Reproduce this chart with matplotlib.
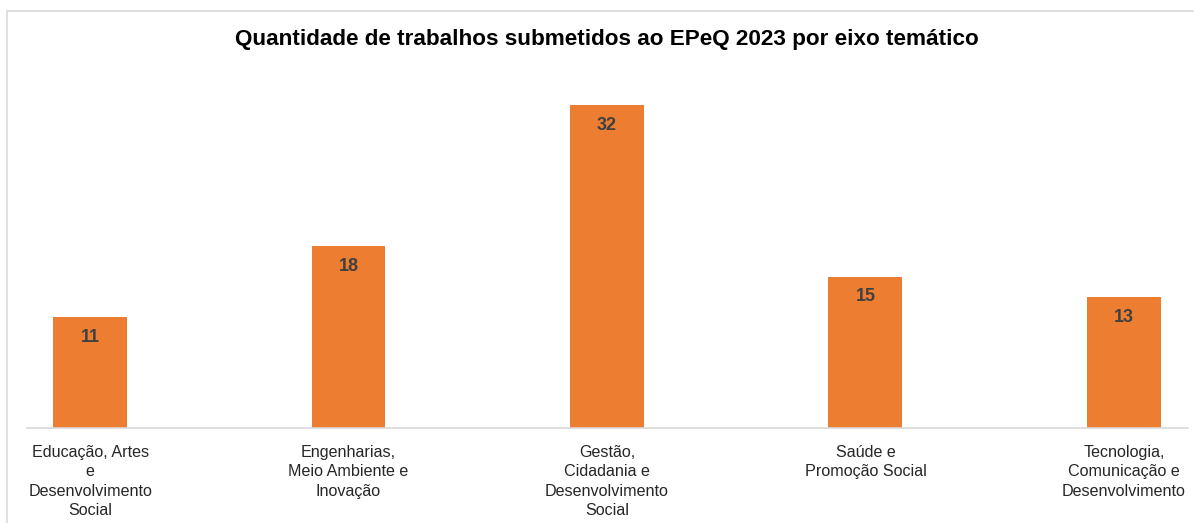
import matplotlib.pyplot as plt
from matplotlib.patches import Rectangle

eixos = [
    "Educação, Artes\ne\nDesenvolvimento\nSocial",
    "Engenharias,\nMeio Ambiente e\nInovação",
    "Gestão,\nCidadania e\nDesenvolvimento\nSocial",
    "Saúde e\nPromoção Social",
    "Tecnologia,\nComunicação e\nDesenvolvimento",
]
trabalhos = [11, 18, 32, 15, 13]

plt.rcParams['font.family'] = ['Liberation Sans', 'DejaVu Sans']

W, H = 1194, 523
fig = plt.figure(figsize=(W / 100, H / 100), dpi=100)

# moldura do gráfico
fig.patches.append(Rectangle((7 / W, -0.1), 1.2, (H - 11) / H + 0.1,
                             transform=fig.transFigure, fill=False,
                             edgecolor='#d9d9d9', linewidth=1.2))

ax = fig.add_axes([27 / W, 95 / H, (1188 - 27) / W, 333 / H])
x = range(len(eixos))
bars = ax.bar(x, trabalhos, width=0.286, color='#ED7D31')

for b, v in zip(bars, trabalhos):
    ax.text(b.get_x() + b.get_width() / 2, v - 2.0, str(v),
            ha='center', va='center', fontsize=13, fontweight='bold',
            color='#404040')

ax.set_xlim(-0.244, 4.248)
ax.set_ylim(0, 33)
ax.set_yticks([])
ax.set_xticks(list(x))
ax.set_xticklabels(eixos, fontsize=11.6, color='#262626', linespacing=1.38)
ax.tick_params(axis='x', length=0, pad=12)
for s in ['top', 'right', 'left']:
    ax.spines[s].set_visible(False)
ax.spines['bottom'].set_color('#d9d9d9')
ax.spines['bottom'].set_linewidth(1.2)

fig.text(607 / W, (H - 40) / H,
         "Quantidade de trabalhos submetidos ao EPeQ 2023 por eixo temático",
         ha='center', va='center', fontsize=16.2, fontweight='bold')

fig.savefig('out.png', dpi=100)
